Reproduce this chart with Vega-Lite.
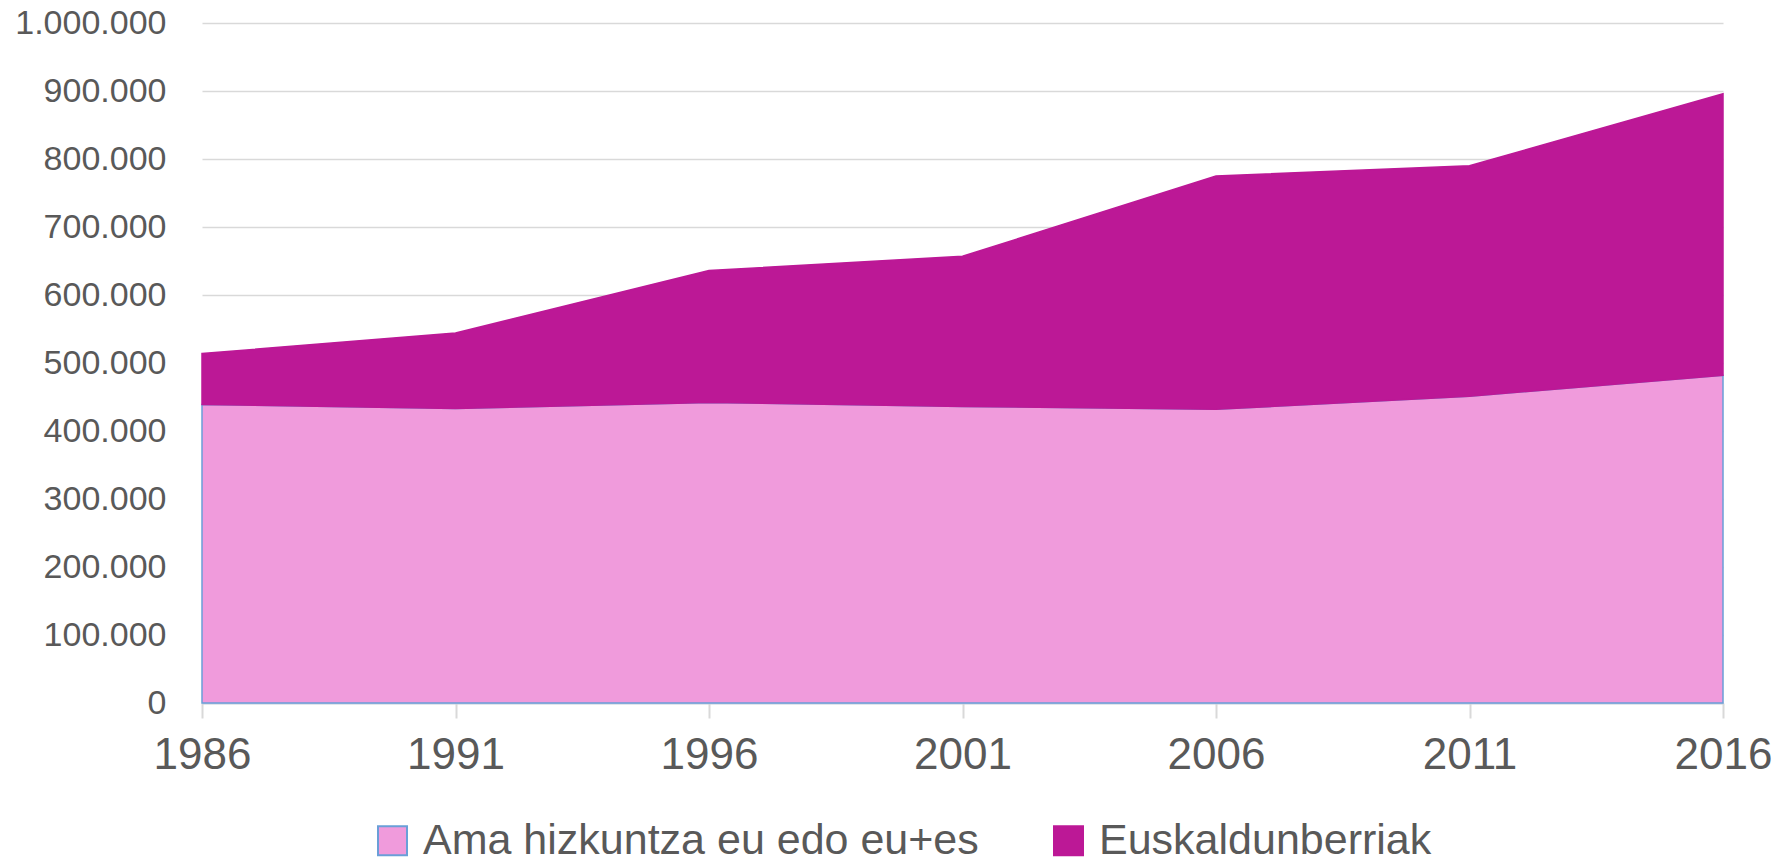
{
  "$schema": "https://vega.github.io/schema/vega-lite/v6.json",
  "autosize": {"type": "none"},
  "width": 1521,
  "height": 680,
  "padding": {"left": 202, "top": 23, "right": 55, "bottom": 164},
  "background": "white",
  "config": {
    "locale": {"number": {"decimal": ",", "thousands": ".", "grouping": [3], "currency": ["", " €"]}},
    "view": {"stroke": null},
    "font": "Liberation Sans"
  },
  "data": {
    "values": [
      {"urtea": 1986, "taldea": "Ama hizkuntza eu edo eu+es", "k": 1, "kopurua": 439000},
      {"urtea": 1991, "taldea": "Ama hizkuntza eu edo eu+es", "k": 1, "kopurua": 433000},
      {"urtea": 1996, "taldea": "Ama hizkuntza eu edo eu+es", "k": 1, "kopurua": 442000},
      {"urtea": 2001, "taldea": "Ama hizkuntza eu edo eu+es", "k": 1, "kopurua": 436000},
      {"urtea": 2006, "taldea": "Ama hizkuntza eu edo eu+es", "k": 1, "kopurua": 432000},
      {"urtea": 2011, "taldea": "Ama hizkuntza eu edo eu+es", "k": 1, "kopurua": 451000},
      {"urtea": 2016, "taldea": "Ama hizkuntza eu edo eu+es", "k": 1, "kopurua": 482000},
      {"urtea": 1986, "taldea": "Euskaldunberriak", "k": 2, "kopurua": 75000},
      {"urtea": 1991, "taldea": "Euskaldunberriak", "k": 2, "kopurua": 111000},
      {"urtea": 1996, "taldea": "Euskaldunberriak", "k": 2, "kopurua": 194000},
      {"urtea": 2001, "taldea": "Euskaldunberriak", "k": 2, "kopurua": 221000},
      {"urtea": 2006, "taldea": "Euskaldunberriak", "k": 2, "kopurua": 343000},
      {"urtea": 2011, "taldea": "Euskaldunberriak", "k": 2, "kopurua": 339000},
      {"urtea": 2016, "taldea": "Euskaldunberriak", "k": 2, "kopurua": 414000}
    ]
  },
  "mark": {"type": "area", "strokeWidth": 1.5, "opacity": 1},
  "encoding": {
    "x": {
      "field": "urtea",
      "type": "quantitative",
      "scale": {"domain": [1986, 2016], "nice": false, "zero": false},
      "axis": {
        "title": null,
        "values": [1986, 1991, 1996, 2001, 2006, 2011, 2016],
        "format": "d",
        "grid": false,
        "domainColor": "#CDD3DF",
        "domainWidth": 2,
        "tickColor": "#D9D9D9",
        "tickWidth": 2,
        "tickSize": 15,
        "labelPadding": 15,
        "labelFontSize": 44,
        "labelColor": "#595959",
        "labelFlush": false,
        "labelOverlap": false
      }
    },
    "y": {
      "field": "kopurua",
      "type": "quantitative",
      "stack": "zero",
      "scale": {"domain": [0, 1000000], "nice": false},
      "axis": {
        "title": null,
        "values": [0, 100000, 200000, 300000, 400000, 500000, 600000, 700000, 800000, 900000, 1000000],
        "format": ",d",
        "domain": false,
        "ticks": false,
        "gridColor": "#D9D9D9",
        "gridWidth": 1.5,
        "labelPadding": 36,
        "labelFontSize": 34,
        "labelColor": "#595959"
      }
    },
    "order": {"field": "k", "type": "quantitative"},
    "color": {
      "field": "taldea",
      "type": "nominal",
      "scale": {"domain": ["Ama hizkuntza eu edo eu+es", "Euskaldunberriak"], "range": ["#F09BDC", "#BC1896"]},
      "legend": {
        "title": null,
        "orient": "none",
        "legendX": 169,
        "legendY": 796,
        "direction": "horizontal",
        "columns": 2,
        "symbolType": "square",
        "symbolSize": 841,
        "symbolStrokeWidth": 2,
        "labelFontSize": 43,
        "labelColor": "#595959",
        "labelOffset": 9,
        "columnPadding": 68,
        "labelLimit": 800
      }
    },
    "stroke": {
      "field": "taldea",
      "type": "nominal",
      "scale": {"domain": ["Ama hizkuntza eu edo eu+es", "Euskaldunberriak"], "range": ["#6A9FD8", "#BC1896"]},
      "legend": null
    }
  }
}
